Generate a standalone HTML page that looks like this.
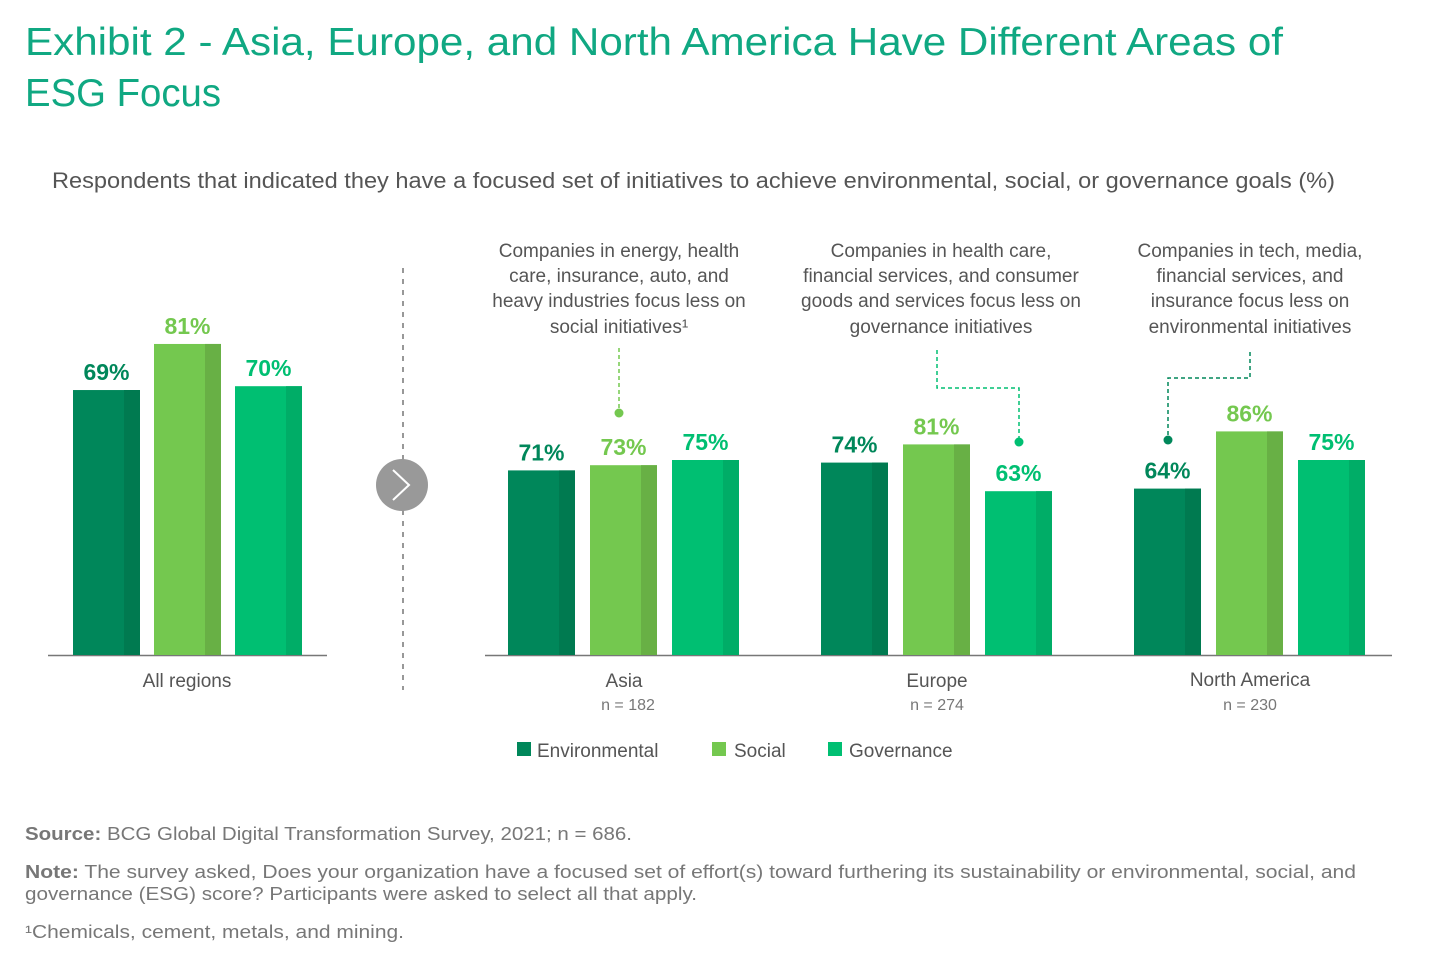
<!DOCTYPE html>
<html><head><meta charset="utf-8"><style>
body{margin:0;background:#fff;font-family:"Liberation Sans",sans-serif;}
svg{display:block}
</style></head><body>
<svg id="c" width="1440" height="966" xmlns="http://www.w3.org/2000/svg">
<text x="25" y="55" font-size="39" fill="#10a882" textLength="1258" lengthAdjust="spacingAndGlyphs">Exhibit 2 - Asia, Europe, and North America Have Different Areas of</text>
<text x="25" y="106" font-size="39" fill="#10a882" textLength="196" lengthAdjust="spacingAndGlyphs">ESG Focus</text>
<text x="52" y="188" font-size="22" fill="#555" textLength="1283" lengthAdjust="spacingAndGlyphs">Respondents that indicated they have a focused set of initiatives to achieve environmental, social, or governance goals (%)</text>
<g id="ann" font-size="19" fill="#555" text-anchor="middle">
<text x="619" y="257">Companies in energy, health</text><text x="619" y="282">care, insurance, auto, and</text><text x="619" y="307">heavy industries focus less on</text><text x="619" y="333">social initiatives¹</text>
<text x="941" y="257">Companies in health care,</text><text x="941" y="282">financial services, and consumer</text><text x="941" y="307">goods and services focus less on</text><text x="941" y="333">governance initiatives</text>
<text x="1250" y="257">Companies in tech, media,</text><text x="1250" y="282">financial services, and</text><text x="1250" y="307">insurance focus less on</text><text x="1250" y="333">environmental initiatives</text>
</g>
<g fill="none" stroke-width="1.5" stroke-dasharray="4,3">
<path d="M619 348 V412" stroke="#74c84f"/>
<path d="M937 350 V388 H1019 V440" stroke="#00bf72"/>
<path d="M1250 352 V378 H1168 V438" stroke="#00875a"/>
</g>
<circle cx="619" cy="413" r="4.5" fill="#74c84f"/>
<circle cx="1019" cy="442" r="4.5" fill="#00bf72"/>
<circle cx="1168" cy="440" r="4.5" fill="#00875a"/>
<line x1="403" y1="268" x2="403" y2="690" stroke="#777" stroke-width="1.5" stroke-dasharray="5,6"/>
<circle cx="402" cy="485" r="26" fill="#999"/>
<path d="M393 470 L409 485 L393 500" fill="none" stroke="#fff" stroke-width="2"/>
<line x1="48" y1="655.5" x2="327" y2="655.5" stroke="#777" stroke-width="1.5"/>
<line x1="485" y1="655.5" x2="1392" y2="655.5" stroke="#777" stroke-width="1.5"/>
<g id="bars"></g>
<g font-size="19" fill="#555" text-anchor="middle">
<text x="187" y="687">All regions</text>
<text x="624" y="687">Asia</text><text x="628" y="710" font-size="16" fill="#777">n = 182</text>
<text x="937" y="687">Europe</text><text x="937" y="710" font-size="16" fill="#777">n = 274</text>
<text x="1250" y="686">North America</text><text x="1250" y="710" font-size="16" fill="#777">n = 230</text>
</g>
<g font-size="19" fill="#555">
<rect x="517" y="742" width="14" height="14" fill="#00875a"/><text x="537" y="757">Environmental</text>
<rect x="712" y="742" width="14" height="14" fill="#74c84f"/><text x="734" y="757">Social</text>
<rect x="828" y="742" width="14" height="14" fill="#00bf72"/><text x="849" y="757">Governance</text>
</g>
<g font-size="18" fill="#777">
<text x="25" y="840" textLength="607" lengthAdjust="spacingAndGlyphs"><tspan font-weight="bold">Source:</tspan> BCG Global Digital Transformation Survey, 2021; n = 686.</text>
<text x="25" y="878" textLength="1331" lengthAdjust="spacingAndGlyphs"><tspan font-weight="bold">Note:</tspan> The survey asked, Does your organization have a focused set of effort(s) toward furthering its sustainability or environmental, social, and</text>
<text x="25" y="900" textLength="672" lengthAdjust="spacingAndGlyphs">governance (ESG) score? Participants were asked to select all that apply.</text>
<text x="25" y="938" textLength="379" lengthAdjust="spacingAndGlyphs">¹Chemicals, cement, metals, and mining.</text>
</g>
</svg>
<script>
const groups=["All regions","Asia","Europe","North America"];
const environmental=[69,71,74,64];
const social=[81,73,81,86];
const governance=[70,75,63,75];
const seriesNames=["environmental","social","governance"];
const series=[environmental,social,governance];
const colors=["#00875a","#74c84f","#00bf72"];
const dark=["#007a50","#68b045","#00ad67"];
const groupX=[73,508,821,1134];
const baseY=655;
function yScale(g,v){return baseY - v*(g===0?3.84:2.6);}
const NS="http://www.w3.org/2000/svg";
const gb=document.getElementById('bars');
groups.forEach((gname,g)=>{
  series.forEach((s,i)=>{
    const v=s[g];const x=groupX[g]+i*(g===0?81:82);const w=67;const y=yScale(g,v);
    const r=document.createElementNS(NS,'rect');
    r.setAttribute('x',x);r.setAttribute('y',y);r.setAttribute('width',w);r.setAttribute('height',baseY-y);r.setAttribute('fill',colors[i]);
    
    
    gb.appendChild(r);
    const d=document.createElementNS(NS,'rect');
    d.setAttribute('x',x+w-16);d.setAttribute('y',y);d.setAttribute('width',16);d.setAttribute('height',baseY-y);d.setAttribute('fill',dark[i]);
    
    
    gb.appendChild(d);
    const t=document.createElementNS(NS,'text');
    t.setAttribute('x',x+w/2);t.setAttribute('y',y-10);t.setAttribute('text-anchor','middle');
    t.setAttribute('font-size','23');t.setAttribute('font-weight','bold');t.setAttribute('fill',colors[i]);
    t.textContent=v+'%';
    
    
    gb.appendChild(t);
  });
});
</script>
</body></html>
